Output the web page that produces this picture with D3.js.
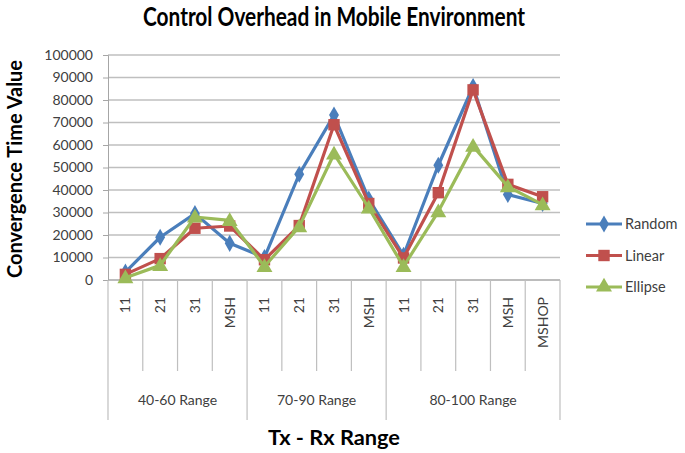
<!DOCTYPE html>
<html><head><meta charset="utf-8">
<script src="https://cdn.jsdelivr.net/npm/d3@7"></script>
<style>body{margin:0;background:#fff}svg{display:block}</style>
</head><body>
<svg id="c" width="685" height="453"></svg>
<script>
const categories = ["11","21","31","MSH","11","21","31","MSH","11","21","31","MSH","MSHOP"];
const groups = [{name:"40-60 Range", start:0, end:4},{name:"70-90 Range", start:4, end:8},{name:"80-100 Range", start:8, end:13}];
const random  = [3500, 19000, 29500, 16300, 10000, 47000, 73300, 36000, 11000, 51000, 86000, 38000, 34000];
const linear  = [2500,  9500, 23000, 24000,  9000, 24200, 69000, 34000,  9800, 38800, 84500, 42500, 37000];
const ellipse = [1000,  6500, 28000, 26500,  6000, 23700, 56000, 32000,  6000, 30400, 59500, 41500, 33500];
const yTicks = [0,10000,20000,30000,40000,50000,60000,70000,80000,90000,100000];
const seriesNames = ["Random","Linear","Ellipse"];

const colors = {Random:"#4a7ebb", Linear:"#c0504d", Ellipse:"#9bbb59"};
const font = "Lato, 'Open Sans', sans-serif";
const svg = d3.select("#c");
const L = 108, R = 560, T = 55, B = 280;
const x = d3.scaleBand().domain(d3.range(categories.length)).range([L, R]).paddingInner(0).paddingOuter(0);
const y = d3.scaleLinear().domain([0, 100000]).range([B, T]);

// gridlines
svg.append("g").selectAll("line").data(yTicks.filter(d=>d>0)).join("line")
  .attr("x1", L).attr("x2", R).attr("y1", d=>y(d)).attr("y2", d=>y(d))
  .attr("stroke", "#bfbfbf").attr("stroke-width", 1.3);

// y axis
const ya = svg.append("g").attr("transform", `translate(${L},0)`)
  .call(d3.axisLeft(y).tickValues(yTicks).tickSize(5).tickPadding(10).tickFormat(d3.format("d")));
ya.select(".domain").attr("stroke", "#a6a6a6");
ya.selectAll(".tick line").attr("stroke", "#a6a6a6");
ya.selectAll("text").attr("font-family", font).attr("font-size", 14).attr("fill", "#404040");

// x axis line
svg.append("line").attr("x1", L).attr("x2", R).attr("y1", B).attr("y2", B).attr("stroke", "#a6a6a6").attr("stroke-width", 1.3);

// category separators
const boundaries = d3.range(categories.length + 1);
const groupBounds = new Set(groups.flatMap(g => [g.start, g.end]));
svg.append("g").selectAll("line").data(boundaries).join("line")
  .attr("x1", i => i < categories.length ? x(i) : R).attr("x2", i => i < categories.length ? x(i) : R)
  .attr("y1", B).attr("y2", i => groupBounds.has(i) ? 420 : 371)
  .attr("stroke", "#bfbfbf").attr("stroke-width", 1.2);

// category labels
svg.append("g").selectAll("text").data(categories).join("text")
  .attr("transform", (d,i) => `translate(${x(i) + x.bandwidth()/2 + 5},${297}) rotate(-90)`)
  .attr("text-anchor", "end").attr("font-family", font).attr("font-size", 14).attr("fill", "#404040")
  .text(d => d);

// group labels
svg.append("g").selectAll("text").data(groups).join("text")
  .attr("x", g => (x(g.start) + (g.end < categories.length ? x(g.end) : R)) / 2)
  .attr("y", 405).attr("text-anchor", "middle").attr("font-family", font).attr("font-size", 14).attr("fill", "#404040")
  .text(g => g.name);

// series
const data = {Random: random, Linear: linear, Ellipse: ellipse};
const symbols = {Random: d3.symbolDiamond, Linear: d3.symbolSquare, Ellipse: d3.symbolTriangle};
const sizes = {Random: 85, Linear: 130, Ellipse: 110};
const cx = i => x(i) + x.bandwidth()/2;
const line = d3.line().x((d,i) => cx(i)).y(d => y(d));
seriesNames.forEach(name => {
  const g = svg.append("g");
  g.append("path").datum(data[name]).attr("d", line).attr("fill", "none")
    .attr("stroke", colors[name]).attr("stroke-width", 3.2).attr("stroke-linejoin", "round");
  g.selectAll("path.m").data(data[name]).join("path").attr("class", "m")
    .attr("d", d3.symbol().type(symbols[name]).size(sizes[name]))
    .attr("transform", (d,i) => `translate(${cx(i)},${y(d) + (name==="Ellipse"?1:0)})`)
    .attr("fill", colors[name]);
});

// legend
const leg = svg.append("g");
seriesNames.forEach((name, k) => {
  const ly = 224 + k * 31.5;
  leg.append("line").attr("x1", 586).attr("x2", 622).attr("y1", ly).attr("y2", ly)
    .attr("stroke", colors[name]).attr("stroke-width", 3);
  leg.append("path").attr("d", d3.symbol().type(symbols[name]).size(sizes[name]))
    .attr("transform", `translate(604,${ly})`).attr("fill", colors[name]);
  leg.append("text").attr("x", 625).attr("y", ly + 5).attr("font-family", font).attr("font-size", 14.5)
    .attr("fill", "#404040").text(name);
});

// titles
svg.append("text").attr("x", 334).attr("y", 26).attr("text-anchor", "middle")
  .attr("font-family", font).attr("font-weight", "bold").attr("font-size", 26)
  .attr("textLength", 382).attr("lengthAdjust", "spacingAndGlyphs")
  .text("Control Overhead in Mobile Environment");
svg.append("text").attr("transform", "translate(22,169) rotate(-90)").attr("text-anchor", "middle")
  .attr("font-family", font).attr("font-weight", "bold").attr("font-size", 21)
  .attr("textLength", 218).attr("lengthAdjust", "spacingAndGlyphs")
  .text("Convergence Time Value");
svg.append("text").attr("x", 334).attr("y", 445).attr("text-anchor", "middle")
  .attr("font-family", font).attr("font-weight", "bold").attr("font-size", 21)
  .attr("textLength", 132).attr("lengthAdjust", "spacingAndGlyphs")
  .text("Tx - Rx Range");
</script>
</body></html>
